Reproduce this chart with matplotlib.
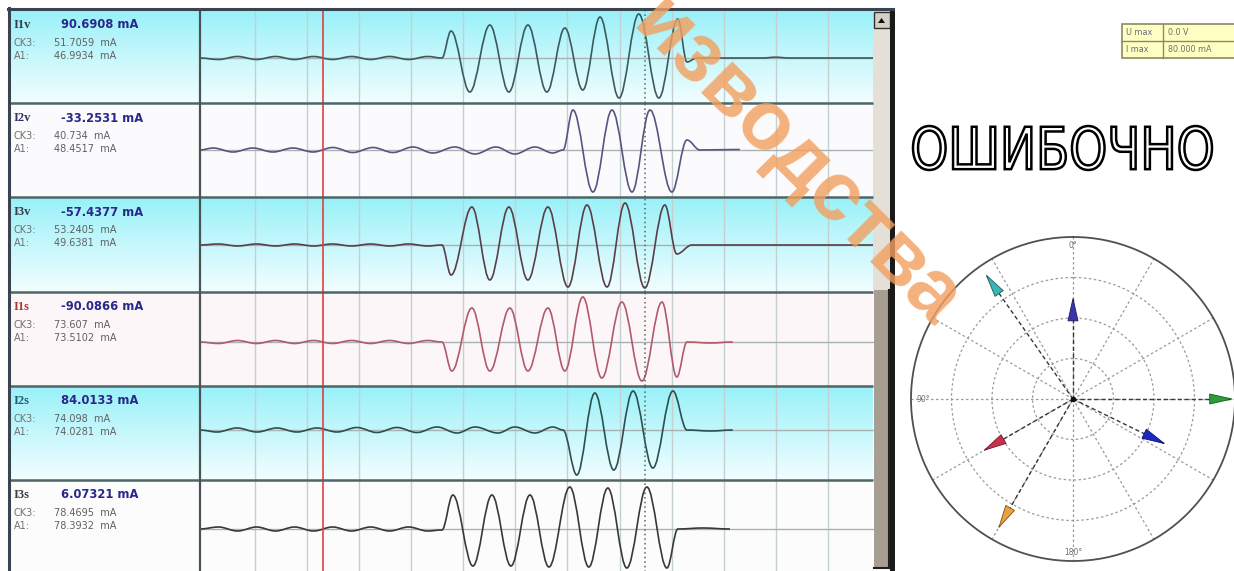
import numpy as np
import matplotlib
matplotlib.use('Agg')
import matplotlib.pyplot as plt
from matplotlib.path import Path
from matplotlib.patches import PathPatch, Rectangle, Polygon
from matplotlib.textpath import TextPath
from matplotlib.font_manager import FontProperties
from matplotlib.transforms import Affine2D

# ---------------- data ----------------
channel_names = ['I1v', 'I2v', 'I3v', 'I1s', 'I2s', 'I3s']
channel_values = ['90.6908 mA', '-33.2531 mA', '-57.4377 mA', '-90.0866 mA', '84.0133 mA', '6.07321 mA']
ck3_values = ['51.7059  mA', '40.734  mA', '53.2405  mA', '73.607  mA', '74.098  mA', '78.4695  mA']
a1_values = ['46.9934  mA', '48.4517  mA', '49.6381  mA', '73.5102  mA', '74.0281  mA', '78.3932  mA']

# waveform extrema (time in ms, amplitude in screen-scaled units)
I1v_t = [-21.1, -14.0, -6.7, 0.6, 7.9, 15.2, 22.5, 29.8, 37.1, 44.4, 51.7, 59.0, 66.3, 71.8,
         75.3, 82.5, 90.2, 97.5, 104.8, 112.1, 119.0, 125.9, 132.5, 139.8, 147.4, 155.1, 162.4,
         165.9, 169.7, 195.0, 200.0, 205.0, 238.1]
I1v_v = [0, -1.5, 1.5, -1.5, 1.5, -1.5, 1.5, -1.5, 1.5, -1.5, 1.5, -1.5, 1.5, 0,
         27, -34, 33, -34, 33, -34, 30, -32, 41, -40, 44, -40, 39,
         -4, 0, 0, 0.8, 0, 0]

I2v_t = [-21.1, -16.1, -8.4, -0.8, 6.9, 14.6, 22.3, 29.9, 37.6, 45.3, 53.0, 60.7, 68.3, 76.8,
         84.5, 92.5, 99.8, 107.5, 114.4, 118.3, 122.1, 129.8, 137.1, 144.8, 151.7, 160.1,
         165.9, 170.9, 186.2]
I2v_v = [0, 2, -2, 2, -2, 2, -2, 2.5, -2.5, 2.5, -2.5, 3, -3, 3,
         -4, 3, -4, 3, -3, 0, 40, -42, 40, -42, 40, -42,
         10, 0, 0.5]

I3v_t = [-21.1, -14.0, -6.7, 0.6, 7.9, 15.2, 22.5, 29.8, 37.1, 44.4, 51.7, 59.0, 66.3, 71.8,
         75.3, 83.3, 90.2, 97.5, 104.8, 112.5, 120.2, 127.5, 135.2, 142.1, 149.7, 157.4,
         162.0, 167.8, 238.1]
I3v_v = [0, 1, -1, 1, -1, 1, -1, 1, -1, 1, -1, 1, -1, 0,
         -30, 38, -35, 38, -35, 38, -42, 40, -42, 42, -43, 40,
         -9, 0, 0]

I1s_t = [-21.1, -14.0, -6.7, 0.6, 7.9, 15.2, 22.5, 29.8, 37.1, 44.4, 51.7, 59.0, 66.3, 71.8,
         75.6, 83.3, 90.2, 97.9, 104.8, 112.5, 119.0, 125.9, 133.2, 140.9, 148.6, 156.3, 162.0,
         165.9, 175.0, 183.5]
I1s_v = [0, -1.5, 1.5, -1.5, 1.5, -1.5, 1.5, -1.5, 1.5, -1.5, 1.5, -1.5, 1.5, 0,
         -29, 34, -29, 34, -29, 34, -29, 45, -36, 40, -39, 40, -35,
         0, -1, 0]

I2s_t = [-21.1, -14.6, -6.9, 0.8, 8.4, 16.1, 23.8, 31.5, 39.2, 46.8, 54.5, 62.2, 69.9, 77.6,
         84.5, 93.3, 99.8, 107.5, 114.4, 118.3, 123.6, 130.5, 137.8, 145.2, 152.8, 160.5,
         165.9, 175.0, 183.5]
I2s_v = [0, -2, 2, -2, 2, -2, 2, -2, 2.5, -2.5, 2.5, -2.5, 3, -3,
         3, -3, 3, -3, 3, 0, -45, 37, -40, 39, -38, 39,
         0, -1, 0]

I3s_t = [-21.1, -14.0, -6.7, 0.6, 7.9, 15.2, 22.5, 29.8, 37.1, 44.4, 51.7, 59.0, 66.3, 71.8,
         76.0, 83.7, 91.0, 98.3, 105.6, 112.9, 120.9, 128.2, 135.5, 142.8, 150.5, 158.2,
         162.4, 172.0, 182.4]
I3s_v = [0, 2, -2, 2, -2, 2, -2, 2, -2, 2, -2, 2, -2, -1,
         34, -37, 34, -37, 34, -38, 42, -38, 41, -39, 42, -39,
         0, 1, 0]

cursor_red_t = 26.1
cursor_dot_t = 149.7
grid_t = [0, 20, 40, 60, 80, 100, 120, 140, 160, 180, 200, 220]

# phasors (angle deg, magnitude mA)
phasor_angles = [0, 120, 244, 35, 150, 270]
phasor_mags = [49.6, 50.6, 50.1, 74.6, 73.1, 78.5]

table_keys = ['U max', 'I max']
table_vals = ['0.0 V', '80.000 mA']

# ---------------- figure ----------------
W, H = 1234, 571
fig = plt.figure(figsize=(W / 100, H / 100), dpi=100)
fig.patch.set_facecolor('white')


def rect(x0, y0, x1, y1):
    return [x0 / W, 1 - y1 / H, (x1 - x0) / W, (y1 - y0) / H]


def trace_path(t, v):
    verts = [(t[0], v[0])]
    codes = [Path.MOVETO]
    for i in range(1, len(t)):
        dt = t[i] - t[i - 1]
        verts += [(t[i - 1] + 0.363 * dt, v[i - 1]), (t[i] - 0.363 * dt, v[i]), (t[i], v[i])]
        codes += [Path.CURVE4] * 3
    return Path(verts, codes)


row_top = [10, 103, 197, 292, 386, 480]
row_bot = [103, 197, 292, 386, 480, 574]
row_zero = [58, 150, 245, 342, 430, 529]
row_bg = ['cyan', '#fbfbfd', 'cyan', '#fdf6f8', 'cyan', '#fcfcfd']
trace_colors = ['#3c5a5c', '#5a5282', '#5a3e48', '#b05a6a', '#2c5052', '#383838']
name_colors = ['#3a3a4a', '#303060', '#3a3a4a', '#a83838', '#205a70', '#3a3a4a']
traces = [(I1v_t, I1v_v), (I2v_t, I2v_v), (I3v_t, I3v_v),
          (I1s_t, I1s_v), (I2s_t, I2s_v), (I3s_t, I3s_v)]

bg = fig.add_axes([0, 0, 1, 1], zorder=0)
grad = np.linspace(0, 1, 64)[:, None, None]
c_top = np.array([0.60, 0.945, 0.975])
c_bot = np.array([0.95, 0.995, 1.0])
img = c_top * (1 - grad) + c_bot * grad
for i in range(6):
    if row_bg[i] == 'cyan':
        bg.imshow(img, extent=(10, 873, row_bot[i], row_top[i]), aspect='auto',
                  interpolation='bilinear', origin='upper')
    else:
        bg.add_patch(Rectangle((10, row_top[i]), 863, row_bot[i] - row_top[i],
                               fc=row_bg[i], ec='none'))
bg.set_xlim(0, W)
bg.set_ylim(H, 0)
bg.axis('off')

for i in range(6):
    ax = fig.add_axes(rect(200, row_top[i], 875, row_bot[i]), zorder=2)
    ax.patch.set_alpha(0)
    ax.set_xlim(-21.1, 238.1)
    ax.set_ylim(-(row_bot[i] - row_zero[i]), row_zero[i] - row_top[i])
    for s in ax.spines.values():
        s.set_visible(False)
    ax.set_xticks(grid_t)
    ax.set_yticks([])
    ax.tick_params(length=0, labelbottom=False)
    ax.set_axisbelow(True)
    ax.grid(axis='x', color='#c4d0d0', lw=1)
    ax.axhline(0, color='#a8b2b2', lw=1, zorder=1)
    t, v = traces[i]
    ax.add_patch(PathPatch(trace_path(t, v), fill=False, ec=trace_colors[i], lw=1.2, zorder=3))
    ax.axvline(cursor_red_t, color='#e04040', lw=1.2, zorder=4)
    ax.axvline(cursor_dot_t, color='#4a6a58', lw=1.1, ls=(0, (1, 2)), zorder=4)

# ---------------- polar phasor diagram ----------------
pax = fig.add_axes(rect(911, 237, 1235, 561), projection='polar', zorder=3)
pax.set_theta_zero_location('N')
pax.set_theta_direction(1)
pax.set_ylim(0, 80)
pax.set_rgrids([20, 40, 60], labels=['', '', ''])
pax.set_thetagrids(np.arange(0, 360, 30), labels=[''] * 12)
pax.grid(True, color='#9a9a9a', ls=(0, (2, 2)), lw=0.9)
pax.spines['polar'].set_color('#505050')
pax.spines['polar'].set_linewidth(1.3)
pax.tick_params(length=0)
ph_colors = ['#3a36a8', '#c8304c', '#1c28c0', '#3ab4b4', '#e8a040', '#2c9c3c']
ph_edges = ['#1c1a60', '#701828', '#0c1470', '#1a5a5a', '#805018', '#145a1c']
for ang, mag, col, ec in zip(phasor_angles, phasor_mags, ph_colors, ph_edges):
    th = np.deg2rad(ang)
    pax.plot([th, th], [0, mag], color='#383838', lw=1.0, ls=(0, (3, 2)), zorder=3)
    pax.annotate('', xy=(th, mag), xytext=(th, mag - 11),
                 arrowprops=dict(arrowstyle='wedge,tail_width=0.4,shrink_factor=0.5',
                                 fc=col, ec=ec, lw=0.6, shrinkA=0, shrinkB=0,
                                 mutation_scale=18),
                 annotation_clip=False, zorder=5)
pax.plot([0], [0], 'o', ms=3, color='#111111', zorder=6)
pax.text(np.deg2rad(0), 76, '0°', ha='center', va='center', fontsize=5.5, color='#707070')
pax.text(np.deg2rad(90), 74, '90°', ha='center', va='center', fontsize=5.5, color='#707070')
pax.text(np.deg2rad(180), 76, '180°', ha='center', va='center', fontsize=5.5, color='#707070')

# ---------------- top overlay ----------------
top = fig.add_axes([0, 0, 1, 1], zorder=10)
top.patch.set_alpha(0)
top.set_xlim(0, W)
top.set_ylim(H, 0)
top.axis('off')

# frame and separators
for yb in row_bot[:-1]:
    top.plot([10, 873], [yb, yb], color='#4e6666', lw=1.8, solid_capstyle='butt')
top.plot([200, 200], [10, 571], color='#4a5454', lw=1.6)
top.plot([9, 9], [8, 571], color='#3a4450', lw=2.2)
top.plot([8, 893], [9, 9], color='#3a4450', lw=2.2)

# labels
for i in range(6):
    yt = row_top[i]
    top.text(14, yt + 15, channel_names[i], fontsize=9, fontweight='bold',
             family='Liberation Serif', color=name_colors[i], va='center')
    top.text(61, yt + 15, channel_values[i], fontsize=8.3, fontweight='bold',
             family='DejaVu Sans', color='#28288a', va='center')
    top.text(14, yt + 33, 'CK3:', fontsize=7, color='#707070', va='center')
    top.text(54, yt + 33, ck3_values[i], fontsize=7, color='#606060', va='center')
    top.text(14, yt + 46, 'A1:', fontsize=7, color='#707070', va='center')
    top.text(54, yt + 46, a1_values[i], fontsize=7, color='#606060', va='center')

# scrollbar
top.add_patch(Rectangle((873, 10), 17, 280, fc='#e4e0d8', ec='none'))
top.add_patch(Rectangle((874, 290), 15, 278, fc='#a69e90', ec='none'))
top.plot([889, 889], [290, 568], color='#202020', lw=1.5)
top.plot([874, 889], [568, 568], color='#202020', lw=1.5)
top.add_patch(Rectangle((874, 12), 16, 16, fc='#d4d0c8', ec='#303030', lw=1))
top.add_patch(Polygon([(878, 23), (885, 23), (881.5, 18)], closed=True, fc='#101010', ec='none'))
top.add_patch(Rectangle((890, 8), 5, 563, fc='#1a1a1a', ec='none'))

# table
top.add_patch(Rectangle((1122, 24), 114, 34, fc='#ffffc4', ec='#8a8a60', lw=1.2))
top.plot([1122, 1236], [41, 41], color='#8a8a60', lw=1.0)
top.plot([1163, 1163], [24, 58], color='#8a8a60', lw=1.0)
for k, (key, val) in enumerate(zip(table_keys, table_vals)):
    yy = 32.5 + 17 * k
    top.text(1126, yy, key, fontsize=5.8, color='#606880', va='center')
    top.text(1168, yy, val, fontsize=5.8, color='#707060', va='center')

# outlined word
tp = TextPath((0, 0), 'ОШИБОЧНО', size=100, prop=FontProperties(family='DejaVu Sans'))
ext = tp.get_extents()
sx = (1212 - 913) / ext.width
sy = (170 - 126) / ext.height
trans = Affine2D().translate(-ext.x0, -ext.y0).scale(sx, -sy).translate(913, 170) + top.transData
top.add_patch(PathPatch(tp, transform=trans, fc='white', ec='black', lw=1.8))

# watermark
top.text(796, 163, 'изводства', rotation=-45, rotation_mode='anchor', ha='center', va='center',
         fontsize=60, fontweight='bold', family='Liberation Sans', color='#f2a060', alpha=0.82)

fig.savefig('out.png', dpi=100)
